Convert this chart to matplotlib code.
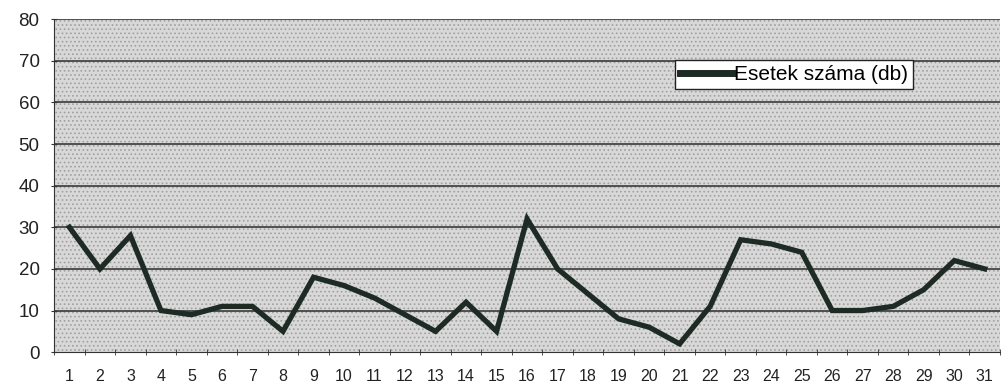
import numpy as np
import matplotlib
matplotlib.use("Agg")
import matplotlib.pyplot as plt

plt.rcParams['font.family'] = ['Liberation Sans', 'DejaVu Sans']
plt.rcParams['hatch.linewidth'] = 0.7

# daily counts
days = list(range(1, 32))
cases = [30, 20, 28, 10, 9, 11, 11, 5, 18, 16, 13, 9, 5, 12, 5, 32,
         20, 14, 8, 6, 2, 11, 27, 26, 24, 10, 10, 11, 15, 22, 20]
series_label = "Esetek száma (db)"
y_ticks = [0, 10, 20, 30, 40, 50, 60, 70, 80]

fig = plt.figure(figsize=(10.03, 3.90), dpi=100)
ax = fig.add_axes([0.054, 0.097, 0.943, 0.854])

# scanned grey background with a dotted texture
ax.set_facecolor('#d8d8d8')
ax.add_patch(plt.Rectangle((0, 0), 1, 1, transform=ax.transAxes, facecolor='none',
                           edgecolor='#a0a0a0', lw=0, hatch='....', zorder=0))

for v in y_ticks[1:]:
    ax.axhline(v, color='#2b2b2b', lw=1.1, zorder=1)

ax.plot(days, cases, color='#1e2a24', lw=3.8, solid_joinstyle='miter',
        label=series_label, zorder=3)

ax.set_xlim(0.5, 31.5)
ax.set_ylim(0, 80)
ax.set_yticks(y_ticks)
ax.set_yticklabels([str(v) for v in y_ticks], fontsize=13.5, color='#222222')

# Excel-style category axis: labels centred, ticks between categories
ax.set_xticks(days)
ax.set_xticklabels([str(d) for d in days], fontsize=11.5, color='#222222')
ax.set_xticks(np.arange(0.5, 32, 1), minor=True)
ax.tick_params(axis='x', which='major', length=0, pad=12)
ax.tick_params(axis='x', which='minor', length=5, direction='inout', color='#333333')
ax.tick_params(axis='y', length=5, direction='inout', color='#333333', pad=8)

for s in ['top', 'right']:
    ax.spines[s].set_visible(False)
ax.spines['left'].set_color('#333333')
ax.spines['bottom'].set_color('#333333')

leg = ax.legend(loc='upper left', bbox_to_anchor=(0.656, 0.877), fontsize=15,
                frameon=True, fancybox=False, handlelength=2.5, handletextpad=0.1,
                borderpad=0.25, borderaxespad=0)
leg.get_frame().set_edgecolor('#222222')
leg.get_frame().set_facecolor('white')
leg.get_frame().set_alpha(1)
leg.get_lines()[0].set_linewidth(5)

fig.savefig('out.png', dpi=100)
